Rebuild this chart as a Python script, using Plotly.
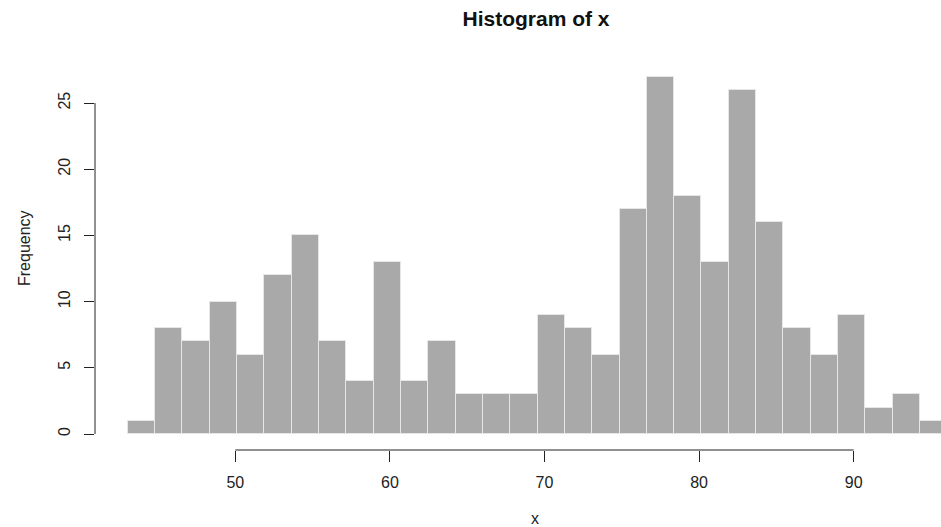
import plotly.graph_objects as go

# ---- data ----
counts = [1, 8, 7, 10, 6, 12, 15, 7, 4, 13, 4, 7, 3, 3, 3, 9, 8, 6, 17, 27,
          18, 13, 26, 16, 8, 6, 9, 2, 3, 1]
bin_start = 43.05
bin_width = 1.767
x_ticks = [50, 60, 70, 80, 90]
y_ticks = [0, 5, 10, 15, 20, 25]
title_text = "Histogram of x"
x_label = "x"
y_label = "Frequency"

centers = [bin_start + bin_width * (i + 0.5) for i in range(len(counts))]

W, H = 941, 527
L, R, T, B = 95, 0, 62, 77
FONT = "Liberation Sans, Arial, sans-serif"
AX = "#222222"

fig = go.Figure(go.Bar(
    x=centers, y=counts, width=bin_width,
    marker=dict(color="#A9A9A9", line=dict(color="#E6E6E6", width=1)),
    hoverinfo="skip",
))

fig.update_layout(
    width=W, height=H,
    margin=dict(l=L, r=R, t=T, b=B, pad=0),
    paper_bgcolor="white", plot_bgcolor="white",
    showlegend=False, bargap=0,
    font=dict(family=FONT, size=16, color=AX),
    title=dict(text="<b>" + title_text + "</b>", xref="container", yref="container",
               x=536 / W, xanchor="center", y=1 - 19 / H, yanchor="middle",
               font=dict(family=FONT, size=21, color="#111111")),
    xaxis=dict(range=[40.925, 95.65], tickvals=x_ticks, ticks="outside", ticklen=11,
               tickcolor=AX, tickwidth=1, showgrid=False, zeroline=False, showline=False,
               ticklabelstandoff=7, tickfont=dict(size=16, color=AX)),
    yaxis=dict(range=[-1.208, 28.10], tickvals=y_ticks, ticks="outside", ticklen=10,
               tickcolor=AX, tickwidth=1, showgrid=False, zeroline=False, showline=False,
               tickangle=-90, ticklabelstandoff=8, tickfont=dict(size=16, color=AX)),
    shapes=[
        dict(type="line", xref="paper", yref="y", x0=0, x1=0, y0=y_ticks[0], y1=y_ticks[-1],
             line=dict(color=AX, width=1)),
        dict(type="line", xref="x", yref="paper", x0=x_ticks[0], x1=x_ticks[-1], y0=0, y1=0,
             line=dict(color=AX, width=1)),
    ],
    annotations=[
        dict(text=y_label, xref="paper", yref="paper", x=0, y=(450 - 248) / 388,
             xshift=-70, xanchor="center", yanchor="middle", textangle=-90,
             showarrow=False, font=dict(size=16, color=AX)),
        dict(text=x_label, xref="paper", yref="paper", x=(535 - L) / (W - L - R), y=0,
             yshift=-58, xanchor="center", yanchor="top",
             showarrow=False, font=dict(size=16, color=AX)),
    ],
)

fig.write_html("out.html", config={"displayModeBar": False},
               post_script="document.body.style.margin='0';document.body.style.overflow='hidden';")
